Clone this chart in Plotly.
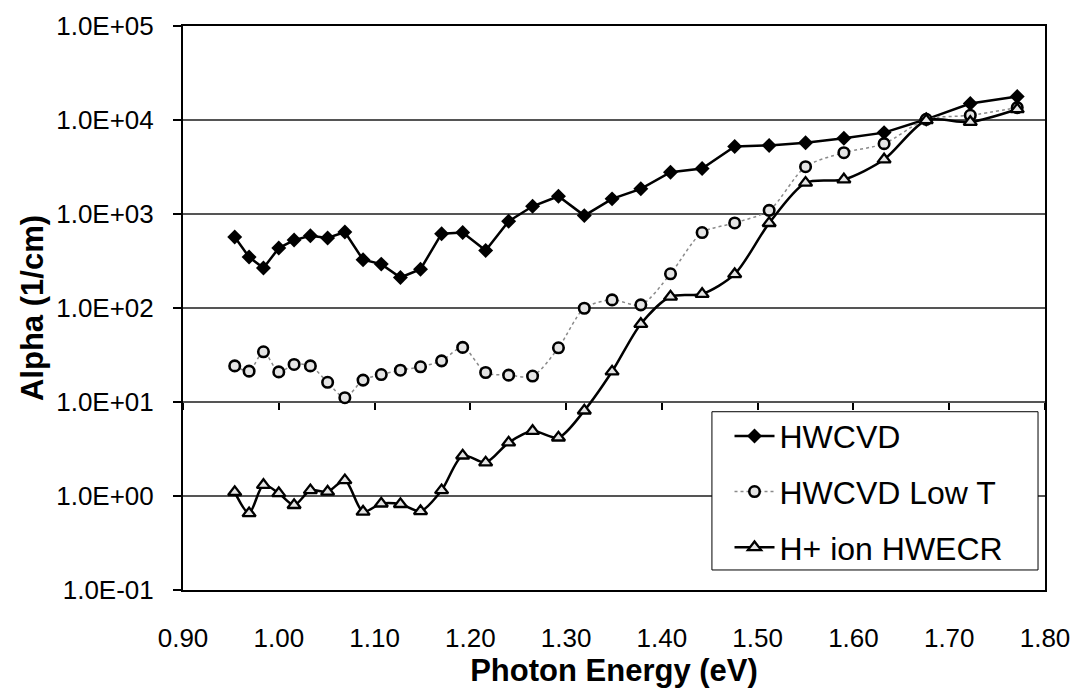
import plotly.graph_objects as go

# Photon energy (eV)
energy = [0.954, 0.969, 0.984, 1.000, 1.016, 1.033, 1.051, 1.069, 1.088, 1.107,
          1.127, 1.148, 1.170, 1.192, 1.216, 1.240, 1.265, 1.292, 1.319, 1.348,
          1.378, 1.409, 1.442, 1.476, 1.512, 1.550, 1.590, 1.632, 1.676, 1.722, 1.771]

hwcvd = [569, 348, 266, 434, 528, 587, 555, 644, 326, 293,
         211, 259, 617, 637, 409, 836, 1208, 1545, 961, 1449,
         1853, 2787, 3048, 5236, 5366, 5739, 6380, 7340, 10170, 14970, 17780]

hwcvd_low_t = [24.2, 21.3, 34.2, 20.9, 25.1, 24.2, 16.2, 11.1, 17.1, 19.6,
               21.8, 23.7, 27.4, 38.1, 20.6, 19.3, 18.9, 37.7, 99.4, 122,
               108, 231, 635, 803, 1094, 3185, 4490, 5600, 10170, 11220, 13550]

h_ion_hwecr = [1.10, 0.655, 1.31, 1.07, 0.80, 1.15, 1.11, 1.47, 0.68, 0.83,
               0.82, 0.69, 1.15, 2.69, 2.27, 3.70, 4.92, 4.18, 8.1, 21.1,
               67.6, 132, 141, 229, 800, 2148, 2330, 3800, 9930, 9530, 13000]

series_names = ["HWCVD", "HWCVD Low T", "H+ ion HWECR"]

y_tick_vals = [0.1, 1, 10, 100, 1000, 10000, 100000]
y_tick_text = ["1.0E-01", "1.0E+00", "1.0E+01", "1.0E+02", "1.0E+03", "1.0E+04", "1.0E+05"]

x_title = "Photon Energy (eV)"
y_title = "Alpha (1/cm)"

FONT = "Arial, 'Liberation Sans', Helvetica, sans-serif"

fig = go.Figure()

fig.add_trace(go.Scatter(
    x=energy, y=hwcvd, name=series_names[0], mode="lines+markers",
    legendgroup="a",
    line=dict(color="black", width=2.5),
    marker=dict(symbol="diamond", size=11.5, color="black", line=dict(width=0)),
))
fig.add_trace(go.Scatter(
    x=energy, y=hwcvd_low_t, name=series_names[1], mode="lines+markers",
    legendgroup="b",
    line=dict(color="#8a8a8a", width=1.5, dash="dot", shape="spline", smoothing=0.8),
    marker=dict(symbol="circle", size=10.5, color="#e4e4e4",
                line=dict(color="black", width=2.6)),
))
fig.add_trace(go.Scatter(
    x=energy, y=h_ion_hwecr, name=series_names[2], mode="lines+markers",
    legendgroup="c",
    line=dict(color="black", width=2.5, shape="spline", smoothing=0.8),
    marker=dict(symbol="triangle-up", size=11.5, color="#e4e4e4",
                line=dict(color="black", width=2.3)),
))
# invisible trace to carry the tick axis that crosses at alpha = 1
fig.add_trace(go.Scatter(
    x=energy, y=hwcvd, xaxis="x2", mode="lines", line=dict(width=0),
    opacity=0, showlegend=False, hoverinfo="skip",
))

# legend frame (white box with thin border)
fig.add_shape(
    type="rect", xref="paper", yref="paper",
    x0=0.6136, x1=0.9919, y0=0.0355, y1=0.3161,
    line=dict(color="black", width=1), fillcolor="white", layer="above",
)

fig.update_layout(
    width=1075, height=690,
    paper_bgcolor="white", plot_bgcolor="white",
    margin=dict(l=183, r=30, t=26, b=100),
    font=dict(family=FONT, color="black", size=26),
    showlegend=True,
    legend=dict(
        x=0.634, y=0.3215, xanchor="left", yanchor="top",
        bgcolor="rgba(0,0,0,0)", borderwidth=0,
        font=dict(family=FONT, size=32, color="black"),
        traceorder="grouped", tracegroupgap=11,
        itemwidth=40,
    ),
    xaxis=dict(
        range=[0.9, 1.8], dtick=0.1, tick0=0.9, tickformat=".2f",
        showgrid=False, zeroline=False, automargin=False,
        showline=True, linecolor="black", linewidth=2, mirror=True,
        ticks="", ticklabelstandoff=24,
        tickfont=dict(size=26),
        title=dict(text="<b>" + x_title + "</b>", font=dict(size=31), standoff=7),
    ),
    xaxis2=dict(
        overlaying="x", anchor="free", position=1/3, automargin=False,
        range=[0.9, 1.8], dtick=0.1, tick0=0.9,
        showticklabels=False, showgrid=False, showline=False, zeroline=False,
        ticks="outside", ticklen=7, tickwidth=1.5, tickcolor="black",
    ),
    yaxis=dict(
        type="log", range=[-1, 5], automargin=False,
        tickvals=y_tick_vals, ticktext=y_tick_text,
        showgrid=True, gridcolor="#555555", gridwidth=1.5,
        showline=True, linecolor="black", linewidth=2, mirror=True,
        ticks="outside", ticklen=8, tickwidth=1.5, tickcolor="black",
        ticklabelstandoff=14,
        tickfont=dict(size=26),
        title=dict(text="<b>" + y_title + "</b>", font=dict(size=31), standoff=3),
    ),
)

fig.write_html("out.html", config={"displayModeBar": False},
               post_script="document.body.style.margin='0';")
